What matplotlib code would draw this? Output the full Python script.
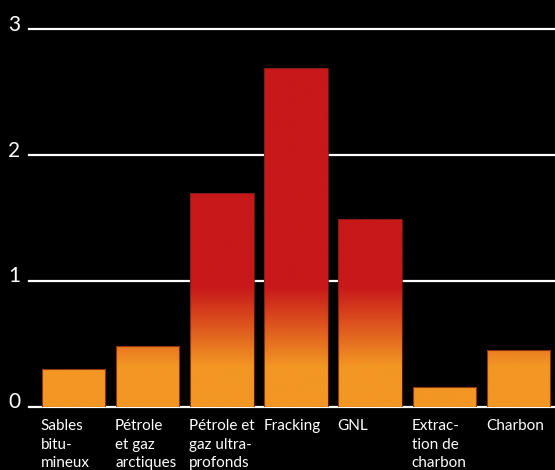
import matplotlib
matplotlib.use("Agg")
import matplotlib.pyplot as plt
import numpy as np
from matplotlib.colors import LinearSegmentedColormap
from matplotlib.transforms import blended_transform_factory, ScaledTranslation

categories = ["Sables\nbitu-\nmineux", "Pétrole\net gaz\narctiques", "Pétrole et\ngaz ultra-\nprofonds",
              "Fracking", "GNL", "Extrac-\ntion de\ncharbon", "Charbon"]
values = [0.30, 0.48, 1.70, 2.69, 1.49, 0.16, 0.45]
yticks = [0, 1, 2, 3]

W, H = 555, 470
fig = plt.figure(figsize=(W / 100, H / 100), dpi=100)
fig.patch.set_facecolor("black")

ax_left = 29.3 / W
ax_bottom = (H - 406.7) / H
ax_top = (H - 29.3) / H
ax = fig.add_axes([ax_left, ax_bottom, 1 - ax_left, ax_top - ax_bottom])
ax.set_facecolor("black")
ax.axis("off")

# gridlines and y labels
ylab_tr = blended_transform_factory(fig.transFigure, ax.transData) + \
    ScaledTranslation(0, -1.5 / 100, fig.dpi_scale_trans)
for t in yticks:
    ax.axhline(t, color="white", lw=1.6, zorder=1, clip_on=False)
    ax.text(20.5 / W, t, str(t), color="white", fontsize=15, family="Lato",
            ha="right", va="baseline", transform=ylab_tr, zorder=3, clip_on=False)

orange = np.array([243, 150, 35]) / 255
red = np.array([200, 24, 26]) / 255
cmap = LinearSegmentedColormap.from_list("g", [(0, orange), (0.32 / 3, orange), (0.95 / 3, red), (1, red)])
grad = np.linspace(0, 1, 512).reshape(-1, 1)

x = np.arange(len(values))
width = 0.857
bars = ax.bar(x, values, width=width, color="none", edgecolor=(0.45, 0.12, 0.05, 0.8), lw=0.8, zorder=4)
for b in bars:
    im = ax.imshow(grad, cmap=cmap, origin="lower", extent=[-0.6, 6.5, 0, 3], aspect="auto",
                   zorder=2, interpolation="bilinear")
    im.set_clip_path(b)
ax.set_xlim(-0.596, 6.49)
ax.set_ylim(0, 3)

# category labels, left aligned at bar left edge
lab_tr = blended_transform_factory(ax.transData, fig.transFigure)
baselines = [430.0, 448.7, 467.3]
for i, c in enumerate(categories):
    for j, line in enumerate(c.split("\n")):
        ax.text(i - width / 2 - 0.012, (H - baselines[j]) / H, line, color="white", fontsize=11,
                family="Lato", ha="left", va="baseline", transform=lab_tr, clip_on=False)

fig.savefig("out.png", dpi=100, facecolor="black")
